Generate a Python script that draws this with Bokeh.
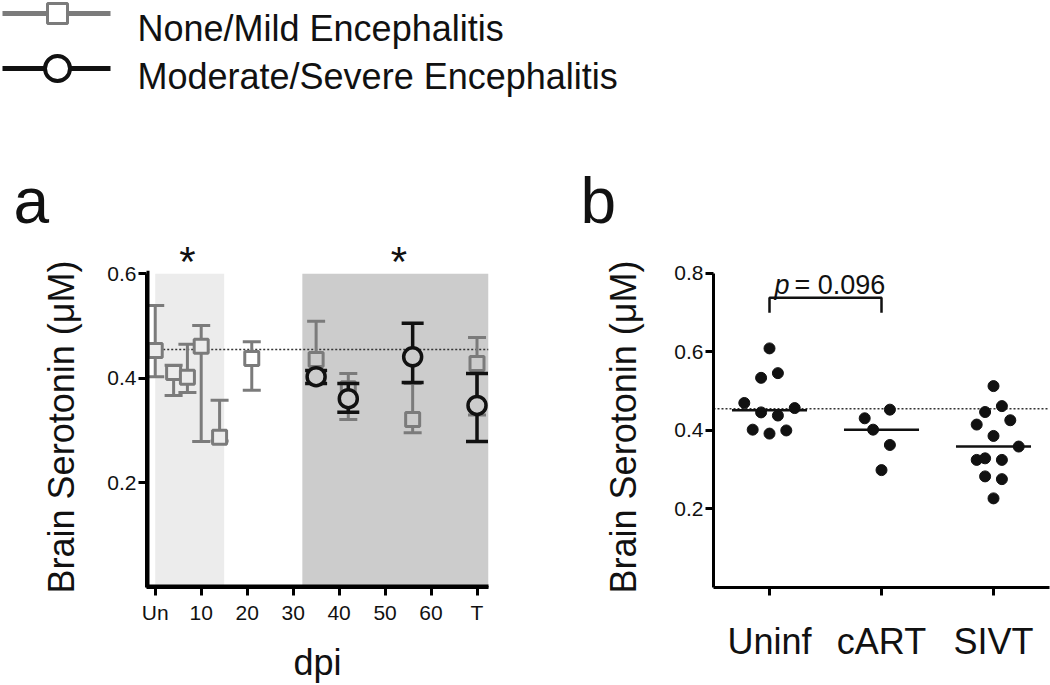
import numpy as np
from bokeh.plotting import figure
from bokeh.layouts import column, row
from bokeh.models import FixedTicker, Range1d, Title
from bokeh.core.properties import value
from bokeh.embed import file_html
from bokeh.resources import INLINE

FONT = "Liberation Sans"
GRAY = "#7b7b7b"
BLACK = "#111111"

# ---------------- data: panel a ----------------
dpi_ticks = [0, 10, 20, 30, 40, 50, 60, 70]
dpi_tick_labels = ["Un", "10", "20", "30", "40", "50", "60", "T"]

mild_dpi = [0, 4, 7, 10, 14, 21, 35, 42, 56, 70]
mild_mean = [0.453, 0.411, 0.402, 0.461, 0.287, 0.438, 0.436, 0.380, 0.321, 0.428]
mild_upper = [0.539, 0.425, 0.465, 0.501, 0.358, 0.470, 0.509, 0.409, 0.390, 0.478]
mild_lower = [0.403, 0.367, 0.373, 0.279, 0.280, 0.377, 0.410, 0.321, 0.296, 0.330]

severe_dpi = [35, 42, 56, 70]
severe_mean = [0.403, 0.361, 0.441, 0.348]
severe_upper = [0.415, 0.390, 0.505, 0.409]
severe_lower = [0.390, 0.335, 0.392, 0.279]

shade_start = [0, 32]
shade_end = [15, 72.5]
shade_colors = ["#ececec", "#cccccc"]
star_dpi = [7, 53]
uninf_reference = 0.455

legend_labels = ["None/Mild Encephalitis", "Moderate/Severe Encephalitis"]

# ---------------- data: panel b ----------------
groups = ["Uninf", "cART", "SIVT"]
uninf_vals = [0.609, 0.534, 0.546, 0.470, 0.446, 0.438, 0.457, 0.402, 0.392, 0.400]
uninf_offsets = [0, -0.075, 0.075, -0.225, -0.075, 0.075, 0.225, -0.15, 0, 0.15]
cart_vals = [0.453, 0.431, 0.402, 0.363, 0.299]
cart_offsets = [0.075, -0.15, -0.075, 0.075, 0]
sivt_vals = [0.513, 0.447, 0.462, 0.415, 0.426, 0.386, 0.359, 0.325, 0.329, 0.325, 0.283, 0.276, 0.227]
sivt_offsets = [0, -0.075, 0.075, -0.15, 0.15, 0, 0.225, -0.15, -0.075, 0.075, -0.075, 0.075, 0]
p_value_text = "= 0.096"

Y_LABEL = "Brain Serotonin (μM)" + "\u00a0" * 3


def base_style(p):
    p.outline_line_color = None
    p.xgrid.visible = False
    p.ygrid.visible = False
    for ax in p.axis:
        ax.axis_line_width = 3
        ax.axis_line_color = "black"
        ax.major_tick_line_width = 3
        ax.major_tick_out = 8
        ax.major_tick_in = 0
        ax.minor_tick_line_color = None
        ax.major_label_text_font = FONT
        ax.major_label_text_color = "#111111"
        ax.axis_label_text_font = FONT
        ax.axis_label_text_font_style = "normal"
        ax.axis_label_text_color = "#111111"


def panel_letter(p, letter, offset):
    t = Title(text=letter, align="left", offset=offset, standoff=0,
              text_font=FONT, text_font_size="64px", text_font_style="normal",
              text_color="#111111")
    p.add_layout(t, "above")


# ---------------- legend strip ----------------
pl = figure(width=1050, height=108, x_range=Range1d(0, 1050), y_range=Range1d(108, 0),
            x_axis_type=None, y_axis_type=None, output_backend="svg",
            toolbar_location=None, min_border=0)
pl.outline_line_color = None
pl.xgrid.visible = False
pl.ygrid.visible = False
leg_y = [13, 68]
leg_colors = [GRAY, BLACK]
pl.segment(x0=[2, 2], x1=[110, 110], y0=leg_y, y1=leg_y, line_color=leg_colors, line_width=5)
pl.scatter(x=[57], y=[leg_y[0]], marker="square", size=20, fill_color="white",
           line_color=GRAY, line_width=3)
pl.scatter(x=[57], y=[leg_y[1]], marker="circle", size=25, fill_color="white",
           line_color=BLACK, line_width=4)
pl.text(x=[137, 137], y=[28, 76], text=legend_labels, text_font=value(FONT),
        text_font_size="36px", text_baseline="alphabetic", text_color="#111111")

# ---------------- panel a ----------------
pa = figure(frame_width=342, frame_height=351, x_range=Range1d(-1.9, 72.5), y_range=Range1d(0, 0.671),
            output_backend="svg", toolbar_location=None,
            min_border_left=146, min_border_right=72, min_border_top=128, min_border_bottom=98)
base_style(pa)
y_top_a = 0.6
pa.quad(left=shade_start, right=shade_end, bottom=0, top=y_top_a,
        fill_color=shade_colors, line_color=None)
pa.segment(x0=[0], x1=[72.5], y0=[uninf_reference], y1=[uninf_reference],
           line_color="#333333", line_width=1.5, line_dash="2 2")


def bg_for(x):
    for s, e, c in zip(shade_start, shade_end, shade_colors):
        if s <= x <= e:
            return c
    return "white"


# mild (gray squares)
pa.segment(x0=mild_dpi, x1=mild_dpi, y0=mild_lower, y1=mild_upper, line_color=GRAY, line_width=3)
pa.scatter(x=mild_dpi + mild_dpi, y=mild_upper + mild_lower, marker="dash", size=18,
           line_color=GRAY, line_width=3)
pa.scatter(x=mild_dpi, y=mild_mean, marker="square", size=14,
           fill_color=[bg_for(x) for x in mild_dpi], line_color=GRAY, line_width=3)
# severe (black circles)
pa.segment(x0=severe_dpi, x1=severe_dpi, y0=severe_lower, y1=severe_upper, line_color=BLACK, line_width=3.5)
pa.scatter(x=severe_dpi + severe_dpi, y=severe_upper + severe_lower, marker="dash", size=22,
           line_color=BLACK, line_width=3.5)
pa.scatter(x=severe_dpi, y=severe_mean, marker="circle", size=18,
           fill_color=[bg_for(x) for x in severe_dpi], line_color=BLACK, line_width=3.5)

pa.text(x=star_dpi, y=[0.623] * len(star_dpi), text=["*"] * len(star_dpi),
        text_font=value(FONT), text_font_size="42px", text_align="center",
        text_baseline="middle", text_color="#111111")

# axis rules of panel a drawn along the frame edges (the half inside the frame shows)
xa0 = pa.x_range.start
xa1 = pa.x_range.end
pa.segment(x0=[xa0, xa0], x1=[xa0, xa1], y0=[0, 0], y1=[y_top_a, 0],
           line_color="black", line_width=6, line_cap="square")

pa.yaxis.ticker = FixedTicker(ticks=[0.2, 0.4, 0.6])
pa.yaxis.bounds = (0, y_top_a)
pa.yaxis.major_label_text_font_size = "21px"
pa.yaxis.major_label_standoff = 2
pa.yaxis.axis_label = Y_LABEL
pa.yaxis.axis_label_text_font_size = "36px"
pa.yaxis.axis_label_standoff = 22

pa.xaxis.ticker = FixedTicker(ticks=dpi_ticks)
pa.xaxis.major_label_overrides = {t: l for t, l in zip(dpi_ticks, dpi_tick_labels)}
pa.xaxis.major_label_text_font_size = "21px"
pa.xaxis.major_label_standoff = 5
pa.xaxis.axis_label = "dpi"
pa.xaxis.axis_label_text_font_size = "36px"
pa.xaxis.axis_label_standoff = 15

panel_letter(pa, "a", -133)

# ---------------- panel b ----------------
pb = figure(frame_width=336, frame_height=351, x_range=Range1d(0.5, 3.5), y_range=Range1d(0, 0.894),
            output_backend="svg", toolbar_location=None,
            min_border_left=153, min_border_right=1, min_border_top=128, min_border_bottom=98)
base_style(pb)
y_top_b = 0.8
pb.segment(x0=[0.5], x1=[3.5], y0=[uninf_reference], y1=[uninf_reference],
           line_color="#333333", line_width=1.5, line_dash="2 2")

all_vals = [uninf_vals, cart_vals, sivt_vals]
all_offsets = [uninf_offsets, cart_offsets, sivt_offsets]
for i, (vals, offs) in enumerate(zip(all_vals, all_offsets)):
    cx = i + 1
    pb.scatter(x=[cx + o for o in offs], y=vals, marker="circle", size=11,
               fill_color=BLACK, line_color=BLACK)
    med = float(np.median(vals))
    pb.segment(x0=[cx - 0.335], x1=[cx + 0.335], y0=[med], y1=[med], line_color=BLACK, line_width=2.5)

bracket_top = 0.738
bracket_leg = 0.70
pb.line(x=[1, 1, 2, 2], y=[bracket_leg, bracket_top, bracket_top, bracket_leg],
        line_color=BLACK, line_width=2.5)
pb.text(x=[1.5], y=[0.77], text=["p"], text_font=value(FONT), text_font_style="italic",
        text_font_size="27px", text_align="right", text_baseline="alphabetic",
        x_offset=-36, text_color="#111111")
pb.text(x=[1.5], y=[0.77], text=[p_value_text], text_font=value(FONT),
        text_font_size="27px", text_align="left", text_baseline="alphabetic",
        x_offset=-31, text_color="#111111")

pb.yaxis.ticker = FixedTicker(ticks=[0.2, 0.4, 0.6, 0.8])
pb.yaxis.bounds = (0, y_top_b)
pb.yaxis.major_label_text_font_size = "21px"
pb.yaxis.major_label_standoff = 2
pb.yaxis.axis_label = Y_LABEL
pb.yaxis.axis_label_text_font_size = "36px"
pb.yaxis.axis_label_standoff = 27

pb.xaxis.ticker = FixedTicker(ticks=[1, 2, 3])
pb.xaxis.major_label_overrides = {i + 1: g for i, g in enumerate(groups)}
pb.xaxis.major_label_text_font_size = "36px"
pb.xaxis.major_label_standoff = 25

panel_letter(pb, "b", -133)

layout = column(pl, row(pa, pb))
open("out.html", "w").write(file_html(layout, INLINE))
